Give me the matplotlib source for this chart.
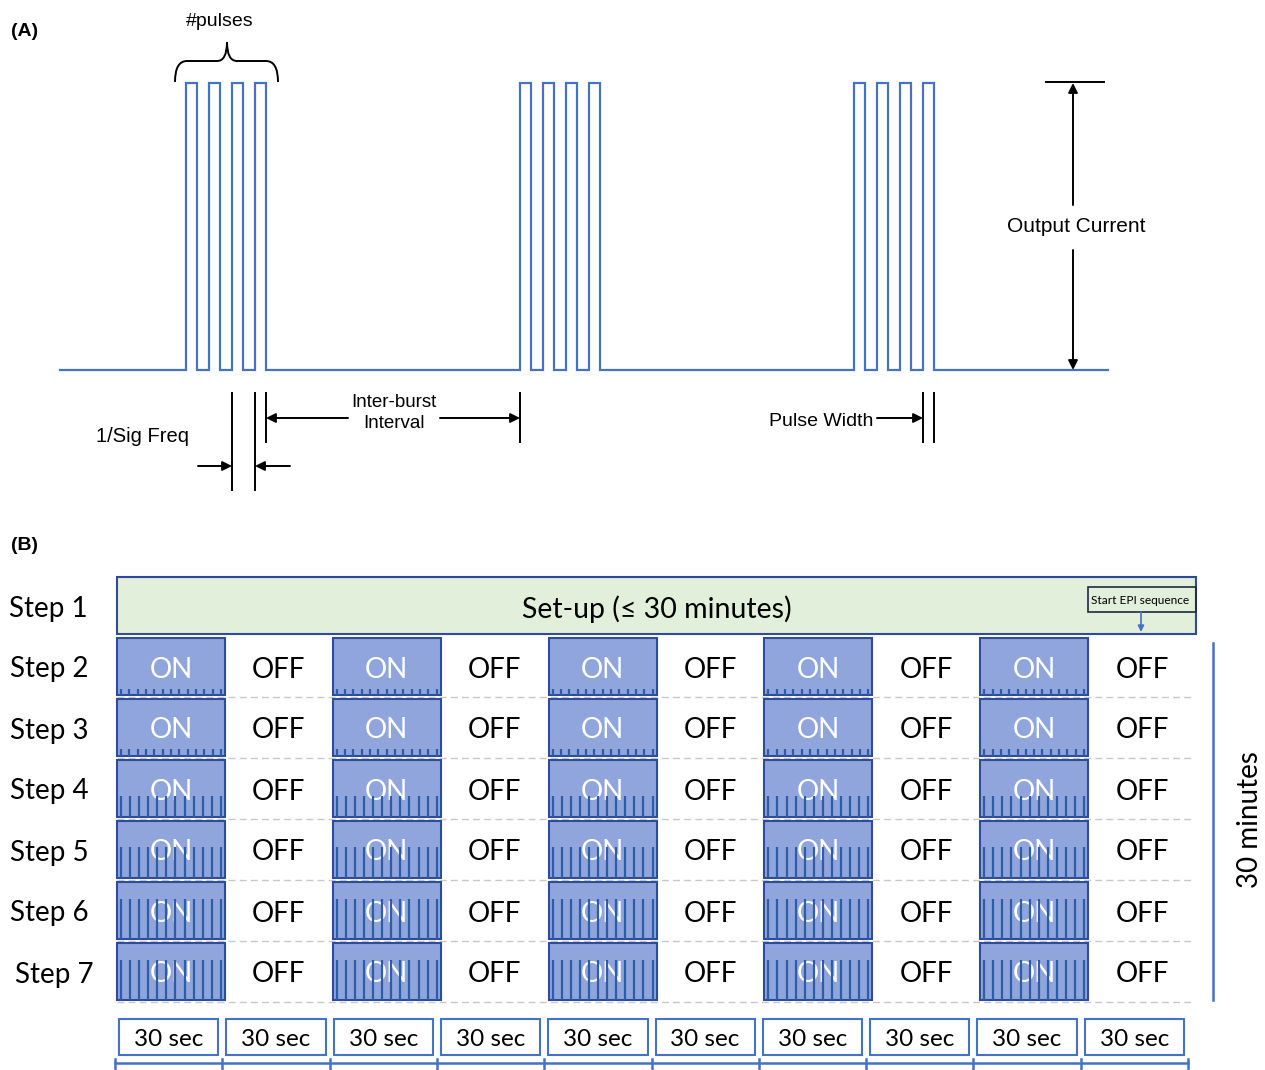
import matplotlib
matplotlib.use("Agg")
import matplotlib.pyplot as plt
from matplotlib.patches import Rectangle, FancyArrowPatch, PathPatch
from matplotlib.path import Path
import numpy as np

# ---------------- data ----------------
steps = ['Step 1', 'Step 2', 'Step 3', 'Step 4', 'Step 5', 'Step 6', 'Step 7']
setup_label = 'Set-up (≤ 30 minutes)'
epi_label = 'Start EPI sequence'
cell_states = ['ON', 'OFF', 'ON', 'OFF', 'ON', 'OFF', 'ON', 'OFF', 'ON', 'OFF']
tick_heights = [0.10, 0.13, 0.36, 0.55, 0.70, 0.70]   # fraction of cell height, steps 2-7
tick_counts = [13, 13, 12, 12, 12, 12]
duration_labels = ['30 sec'] * 10
side_label = '30 minutes'

n_pulses = 4
burst_onsets = [186, 520, 854]
pulse_period = 23
pulse_width = 11
baseline_y, top_y = 370, 83

# ---------------- figure ----------------
W, H = 1265, 1070
fig = plt.figure(figsize=(W / 100, H / 100), dpi=100)
ax = fig.add_axes([0, 0, 1, 1])
ax.set_xlim(0, W)
ax.set_ylim(H, 0)
ax.axis('off')

BLUE = '#4472C4'
DARKBLUE = '#2F4C9B'
ARIAL = ['Liberation Sans', 'DejaVu Sans']
CAL = ['Lato', 'DejaVu Sans']

# ---------- Panel A ----------
ax.text(11, 32, '(A)', fontsize=14, fontweight='bold', family=ARIAL, va='center', ha='left')

xs = [60]
ys = [baseline_y]
for b in burst_onsets:
    for p in range(n_pulses):
        x0 = b + p * pulse_period
        xs += [x0, x0, x0 + pulse_width, x0 + pulse_width]
        ys += [baseline_y, top_y, top_y, baseline_y]
xs.append(1108)
ys.append(baseline_y)
ax.plot(xs, ys, color=BLUE, lw=1.6, solid_joinstyle='miter')

# curly brace
bx0, bx1, bym, bytop, bybot, byh = 175, 278, 227, 42, 82, 61
verts = [(bx0, bybot), (bx0, byh), (bx0 + 12, byh),
         (bym - 10, byh),
         (bym, byh), (bym, bytop),
         (bym, byh), (bym + 10, byh),
         (bx1 - 12, byh),
         (bx1, byh), (bx1, bybot)]
codes = [Path.MOVETO, Path.CURVE3, Path.CURVE3,
         Path.LINETO,
         Path.CURVE3, Path.CURVE3,
         Path.CURVE3, Path.CURVE3,
         Path.LINETO,
         Path.CURVE3, Path.CURVE3]
ax.add_patch(PathPatch(Path(verts, codes), facecolor='none', edgecolor='k', lw=1.4))
ax.text(220, 22, '#pulses', fontsize=14, family=ARIAL, ha='center', va='center')

def arrow(x0, y0, x1, y1, color='k', lw=1.4, style='-|>', ms=14):
    ax.add_patch(FancyArrowPatch((x0, y0), (x1, y1), arrowstyle=style,
                                 mutation_scale=ms, color=color, lw=lw,
                                 shrinkA=0, shrinkB=0))

# output current
ax.plot([1046, 1104], [82, 82], color='k', lw=1.4)
arrow(1073, 205, 1073, 83)
arrow(1073, 250, 1073, 370)
ax.text(1076, 227, 'Output Current', fontsize=15, family=ARIAL, ha='center', va='center')

# 1/Sig Freq
for x in (232, 255):
    ax.plot([x, x], [393, 490], color='k', lw=1.4)
arrow(198, 466, 232, 466)
arrow(290, 466, 255, 466)
ax.text(142, 437, '1/Sig Freq', fontsize=14.5, family=ARIAL, ha='center', va='center')

# Inter-burst interval
for x in (266, 520):
    ax.plot([x, x], [393, 442], color='k', lw=1.4)
arrow(348, 418, 266, 418)
arrow(440, 418, 520, 418)
ax.text(394, 413, 'Inter-burst\nInterval', fontsize=13.5, family=ARIAL, ha='center', va='center',
        linespacing=1.3)

# Pulse width
for x in (923, 934):
    ax.plot([x, x], [393, 442], color='k', lw=1.4)
arrow(877, 418, 923, 418)
ax.text(873, 421, 'Pulse Width', fontsize=14, family=ARIAL, ha='right', va='center')

# ---------- Panel B ----------
ax.text(11, 545, '(B)', fontsize=14, fontweight='bold', family=ARIAL, va='center', ha='left')

gx0, gx1 = 117, 1196
ncol = len(cell_states)
cw = (gx1 - gx0) / ncol
row_top0, row_pitch, cell_h = 638, 61, 57
dy = 3  # text vertical offset

# step 1 bar
ax.add_patch(Rectangle((gx0, 577), gx1 - gx0, 57, facecolor='#E2EFDA',
                       edgecolor=DARKBLUE, lw=1.5))
ax.text((gx0 + gx1) / 2, 606 + dy, setup_label, fontsize=20.5, family=CAL,
        ha='center', va='center')
ax.add_patch(Rectangle((1088, 587), gx1 - 1088, 25, facecolor='none', edgecolor='#1f2a44', lw=1.2))
ax.text(1091, 601, epi_label, fontsize=8.6, family=CAL, ha='left', va='center')
arrow(1141, 612, 1141, 632, color=BLUE, lw=1.2, ms=9)

ax.text(48, 606 + dy, steps[0], fontsize=20, family=CAL, ha='center', va='center')

for r in range(1, len(steps)):
    ytop = row_top0 + (r - 1) * row_pitch
    yc = ytop + cell_h / 2
    # dashed separator
    ax.plot([gx0, gx1 - 4], [ytop + cell_h + 2, ytop + cell_h + 2], color='#C8C8C8',
            lw=1.0, ls=(0, (5, 3)), zorder=1)
    ax.text(49 + (5 if r == 6 else 0), yc + dy, steps[r], fontsize=20, family=CAL,
            ha='center', va='center')
    th = tick_heights[r - 1] * cell_h
    nt = tick_counts[r - 1]
    for c, st in enumerate(cell_states):
        x0 = gx0 + c * cw
        if st == 'ON':
            ax.add_patch(Rectangle((x0, ytop), cw, cell_h, facecolor='#8FA5DC',
                                   edgecolor=DARKBLUE, lw=1.5, zorder=2))
            ax.text(x0 + cw / 2, yc + dy, st, fontsize=20, family=CAL, color='white',
                    ha='center', va='center', zorder=3)
            txs = x0 + 4 + np.arange(nt) * (cw - 8) / (nt - 1)
            ax.vlines(txs, ytop + cell_h - th, ytop + cell_h, color='#2E5DA8',
                      lw=1.6, zorder=4)
        else:
            ax.text(x0 + cw / 2, yc + dy, st, fontsize=20, family=CAL, color='black',
                    ha='center', va='center', zorder=3)

# side bracket
ax.plot([1213, 1213], [643, 1000], color=BLUE, lw=1.8)
ax.text(1250, 820, side_label, fontsize=20, family=CAL, rotation=90,
        ha='center', va='center')

# bottom duration boxes
bx_start, bx_end = 115, 1188
bw = (bx_end - bx_start) / len(duration_labels)
for i, lab in enumerate(duration_labels):
    x0 = bx_start + i * bw
    ax.add_patch(Rectangle((x0 + 4, 1019), bw - 8, 36, facecolor='white',
                           edgecolor=BLUE, lw=1.5))
    ax.text(x0 + bw / 2, 1039, lab, fontsize=17.5, family=CAL, ha='center', va='center')
ax.plot([bx_start, bx_end], [1063, 1063], color=BLUE, lw=1.8)
for i in range(len(duration_labels) + 1):
    x = bx_start + i * bw
    ax.plot([x, x], [1059, 1070], color=BLUE, lw=1.8)

fig.savefig('out.png', dpi=100)
